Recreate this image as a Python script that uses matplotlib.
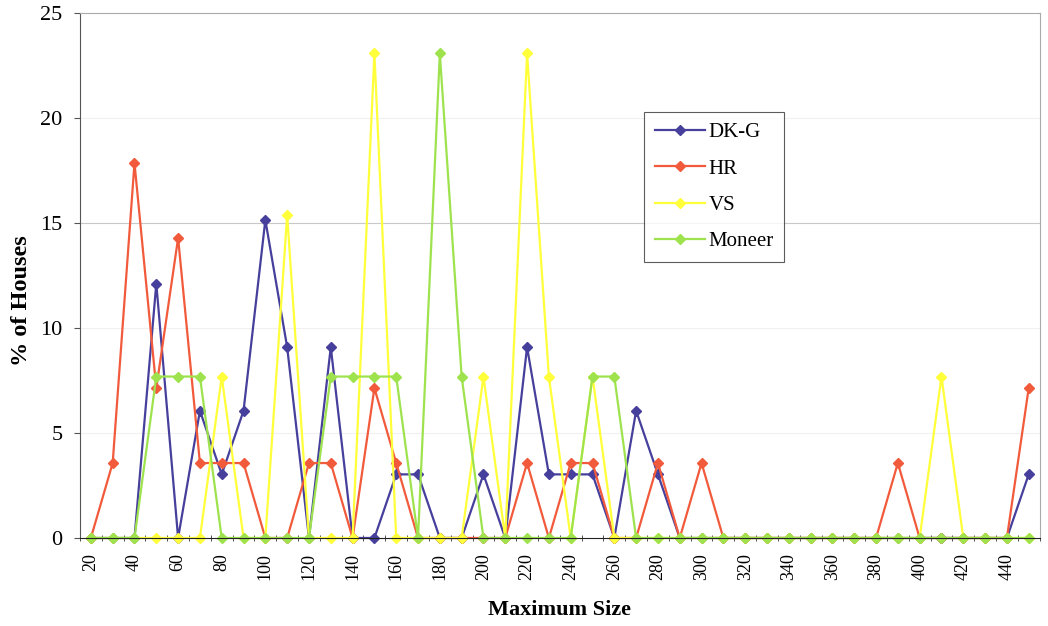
import matplotlib.pyplot as plt
import numpy as np

plt.rcParams["font.family"] = ["Liberation Serif", "DejaVu Serif"]

# Maximum size categories (20 .. 450, step 10)
sizes = list(range(20, 451, 10))

dkg = [0, 0, 0, 12.12, 0, 6.06, 3.03, 6.06, 15.15, 9.09, 0, 9.09, 0, 0, 3.03, 3.03,
       0, 0, 3.03, 0, 9.09, 3.03, 3.03, 3.03, 0, 6.06, 3.03, 0, 0, 0, 0, 0, 0, 0, 0,
       0, 0, 0, 0, 0, 0, 0, 0, 3.03]
hr = [0, 3.57, 17.86, 7.14, 14.29, 3.57, 3.57, 3.57, 0, 0, 3.57, 3.57, 0, 7.14, 3.57, 0,
      0, 0, 0, 0, 3.57, 0, 3.57, 3.57, 0, 0, 3.57, 0, 3.57, 0, 0, 0, 0, 0, 0,
      0, 0, 3.57, 0, 0, 0, 0, 0, 7.14]
vs = [0, 0, 0, 0, 0, 0, 7.69, 0, 0, 15.38, 0, 0, 0, 23.08, 0, 0,
      0, 0, 7.69, 0, 23.08, 7.69, 0, 7.69, 0, 0, 0, 0, 0, 0, 0, 0, 0, 0, 0,
      0, 0, 0, 0, 7.69, 0, 0, 0, 0]
moneer = [0, 0, 0, 7.69, 7.69, 7.69, 0, 0, 0, 0, 0, 7.69, 7.69, 7.69, 7.69, 0,
          23.08, 7.69, 0, 0, 0, 0, 0, 7.69, 7.69, 0, 0, 0, 0, 0, 0, 0, 0, 0, 0,
          0, 0, 0, 0, 0, 0, 0, 0, 0]

series = [("DK-G", dkg, "#463f9c"), ("HR", hr, "#f25a3c"),
          ("VS", vs, "#ffff3a"), ("Moneer", moneer, "#9ee34e")]

fig = plt.figure(figsize=(10.48, 6.26), dpi=100)
ax = fig.add_axes([0.0763, 0.1406, 0.9157, 0.8384])

x = np.arange(len(sizes))
for name, vals, col in series:
    ax.plot(x, vals, color=col, marker="D", markersize=5.5, linewidth=1.6,
            label=name, clip_on=False)

ax.set_xlim(-0.5, len(sizes) - 0.5)
ax.set_ylim(0, 25)
ax.set_yticks([0, 5, 10, 15, 20, 25])

# gridlines are barely visible in the scan, except the one at 15
for gy in [5, 10, 20]:
    ax.axhline(gy, color="#f0f0f0", linewidth=0.8, zorder=0)
ax.axhline(15, color="#c8c8c8", linewidth=0.8, zorder=0)

ax.set_xticks(x[::2])
ax.set_xticklabels([str(s) for s in sizes[::2]], rotation=90, fontsize=13)
ax.tick_params(axis="x", length=0, pad=11)
ax.set_xticks(np.arange(-0.5, len(sizes), 1), minor=True)
ax.tick_params(axis="x", which="minor", length=4, direction="inout", color="#333333")
ax.tick_params(axis="y", labelsize=16, length=4.5, pad=8, color="#555555")

for side in ["top", "right"]:
    ax.spines[side].set_color("#aaaaaa")
ax.spines["left"].set_color("#555555")
ax.spines["bottom"].set_color("#222222")

ax.set_xlabel("Maximum Size", fontsize=16, fontweight="bold", labelpad=14)
ax.set_ylabel("% of Houses", fontsize=17.5, fontweight="bold")
ax.yaxis.set_label_coords(-0.05, 0.453)

leg = ax.legend(loc="upper left", bbox_to_anchor=(0.588, 0.811), fontsize=15,
                frameon=True, fancybox=False, edgecolor="#333333",
                handlelength=2.4, labelspacing=0.8, borderpad=0.5,
                handletextpad=0.2, borderaxespad=0)
leg.get_frame().set_linewidth(0.8)

fig.savefig("out.png", dpi=100)
